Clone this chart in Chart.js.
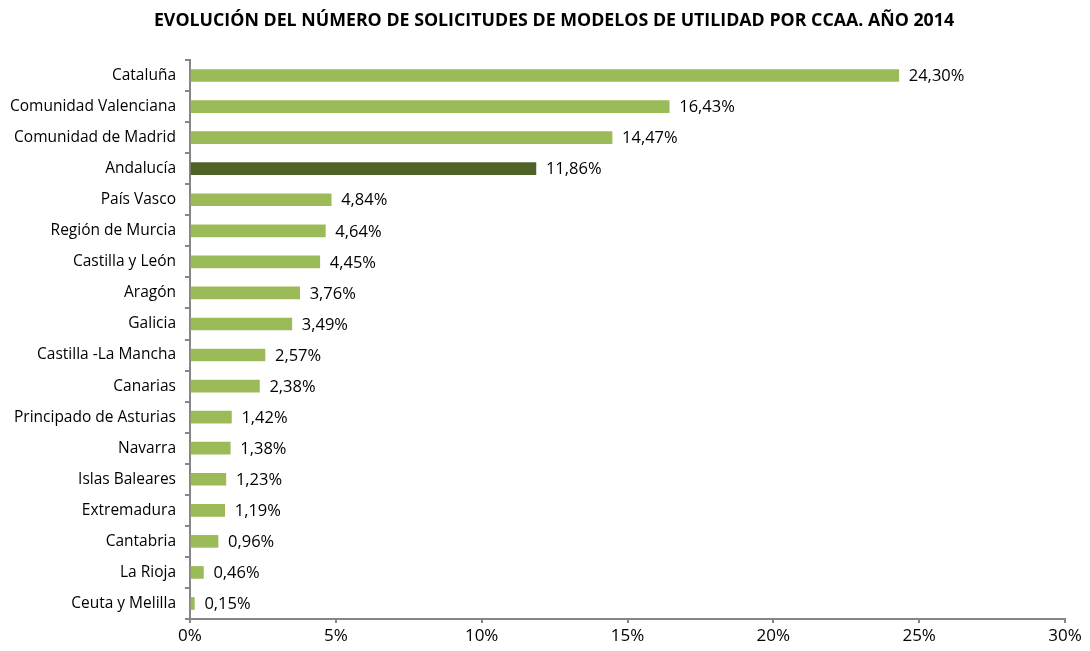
<!DOCTYPE html>
<html>
<head>
<meta charset="utf-8">
<script src="https://cdn.jsdelivr.net/npm/chart.js@4"></script>
<style>
  html, body { margin: 0; padding: 0; background: #fff; }
  #wrap { width: 1090px; height: 651px; }
</style>
</head>
<body>
<div id="wrap"><canvas id="myBarChart"></canvas></div>
<script>
const regiones = ['Cataluña', 'Comunidad Valenciana', 'Comunidad de Madrid', 'Andalucía', 'País Vasco',
    'Región de Murcia', 'Castilla y León', 'Aragón', 'Galicia', 'Castilla -La Mancha', 'Canarias',
    'Principado de Asturias', 'Navarra', 'Islas Baleares', 'Extremadura', 'Cantabria', 'La Rioja', 'Ceuta y Melilla'];
const porcentajes = [24.30, 16.43, 14.47, 11.86, 4.84, 4.64, 4.45, 3.76, 3.49, 2.57, 2.38, 1.42, 1.38, 1.23, 1.19, 0.96, 0.46, 0.15];
const xTicks = [0, 5, 10, 15, 20, 25, 30];
const destacada = 'Andalucía';
const titulo = 'EVOLUCIÓN DEL NÚMERO DE SOLICITUDES DE MODELOS DE UTILIDAD POR CCAA. AÑO 2014';

const fontFamily = '"Open Sans", "Noto Sans", sans-serif';
const axisColor = '#868686';

function fmt(v) {
    return v.toFixed(2).replace('.', ',') + '%';
}

// etiquetas de valor al final de cada barra + título
const valueLabels = {
    id: 'valueLabels',
    afterDatasetsDraw(chart) {
        const c = chart.ctx;
        const meta = chart.getDatasetMeta(0);
        c.save();
        c.font = '16.5px ' + fontFamily;
        c.fillStyle = '#000';
        c.textBaseline = 'middle';
        c.textAlign = 'left';
        meta.data.forEach(function(bar, i) {
            c.fillText(fmt(porcentajes[i]), bar.x + 10, bar.y + 1);
        });
        c.font = 'bold 17.8px ' + fontFamily;
        c.textAlign = 'center';
        c.fillText(titulo, 554, 21);
        c.restore();
    }
};

const ctx = document.getElementById('myBarChart');

new Chart(ctx, {
    type: 'bar',
    data: {
        labels: regiones,
        datasets: [{
            data: porcentajes,
            backgroundColor: regiones.map(r => r === destacada ? '#4F6228' : '#9BBB59'),
            barThickness: 12
        }]
    },
    options: {
        indexAxis: 'y',
        responsive: true,
        maintainAspectRatio: false,
        animation: false,
        layout: {
            padding: { left: 0, right: 25, top: 60, bottom: 4 }
        },
        plugins: {
            legend: { display: false },
            tooltip: { enabled: false },
            title: { display: false }
        },
        scales: {
            x: {
                min: 0,
                max: 30,
                afterBuildTicks: function(scale) {
                    scale.ticks = xTicks.map(v => ({ value: v }));
                },
                afterFit: function(scale) {
                    scale.height = 28;
                },
                border: { color: axisColor, width: 2 },
                grid: { drawOnChartArea: false, tickLength: 4, color: axisColor, lineWidth: 2 },
                ticks: {
                    color: '#000',
                    font: { family: fontFamily, size: 17 },
                    padding: 3,
                    callback: function(value) {
                        return value + '%';
                    }
                }
            },
            y: {
                afterFit: function(scale) {
                    scale.width = 190;
                },
                border: { color: axisColor, width: 2 },
                grid: { offset: true, drawOnChartArea: false, tickLength: 5, color: axisColor, lineWidth: 2 },
                ticks: {
                    color: '#000',
                    font: { family: fontFamily, size: 15.5 },
                    padding: 9,
                    autoSkip: false
                }
            }
        }
    },
    plugins: [valueLabels]
});
</script>
</body>
</html>
